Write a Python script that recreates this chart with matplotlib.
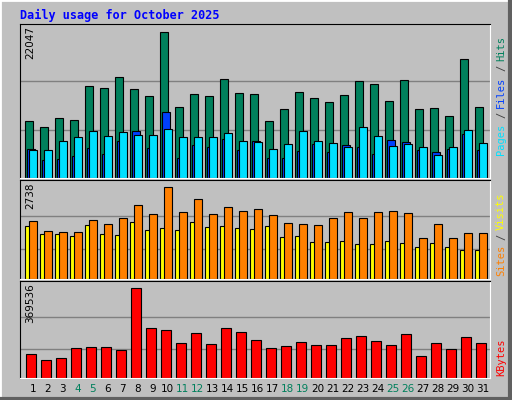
import matplotlib
matplotlib.use('Agg')
import matplotlib.pyplot as plt
from matplotlib.lines import Line2D
import numpy as np

days = np.arange(1, 32)
weekend_days = [4, 5, 11, 12, 18, 19, 25, 26]

hits = [8550, 7650, 9000, 8700, 13800, 13500, 15150, 13350, 12300, 22047, 10650, 12600, 12300, 14850, 12750, 12600,
        8550, 10350, 12900, 12000, 11400, 12450, 14550, 14100, 11550, 14700, 10350, 10500, 9300, 18000, 10650]
files = [4350, 2700, 2850, 3300, 4500, 3600, 5550, 7050, 4500, 9900, 3000, 4950, 4650, 5850, 4200, 5550,
         3000, 3000, 4050, 5100, 3900, 4950, 4650, 3600, 5700, 5400, 4200, 3900, 4350, 6600, 4200]
pages = [4200, 4200, 5550, 6150, 7050, 6300, 6900, 6450, 6450, 7350, 6150, 6150, 6150, 6750, 5550, 5400,
         4350, 5100, 7050, 5550, 5250, 4650, 7650, 6300, 4800, 5100, 4650, 3450, 4650, 7200, 5250]
visits = [1726, 1428, 1399, 1399, 1756, 1637, 1815, 2202, 1934, 2738, 1994, 2381, 1934, 2143, 2024, 2083,
          1905, 1667, 1637, 1607, 1815, 1994, 1815, 1994, 2024, 1964, 1220, 1637, 1220, 1369, 1369]
sites = [1577, 1339, 1339, 1280, 1607, 1339, 1309, 1696, 1458, 1518, 1458, 1696, 1547, 1577, 1518, 1488,
         1577, 1250, 1280, 1101, 1101, 1131, 1042, 1042, 1131, 1071, 952, 1071, 952, 863, 863]
kbytes = [97400, 73100, 81200, 121800, 125900, 125900, 113700, 369536, 203000, 194900, 142100, 182700, 138100,
          203000, 186800, 154300, 121800, 130000, 146200, 134000, 134000, 162400, 170600, 150200, 134000,
          178700, 89300, 142100, 117800, 166500, 142100]

BG = '#c0c0c0'
W, H = 512, 400
fig = plt.figure(figsize=(W / 100, H / 100), dpi=100, facecolor=BG)

# outer bevel
fig.add_artist(Line2D([0, 0, 1], [0, 1, 1], transform=fig.transFigure, color='white', lw=2))
fig.add_artist(Line2D([0.003, 0.997, 0.997], [0.003, 0.003, 0.997], transform=fig.transFigure, color='#606060', lw=3))

fig.text(20 / W, 1 - 15 / H, 'Daily usage for October 2025', color='#0000ff', fontsize=8.5,
         fontweight='bold', family='DejaVu Sans Mono', va='center', ha='left')


def panel(top, bottom):
    ax = fig.add_axes([20 / W, 1 - bottom / H, 470 / W, (bottom - top) / H], facecolor=BG)
    ax.set_xlim(0.147, 31.48)
    ax.set_xticks([])
    ax.set_yticks([])
    for s in ('top', 'left'):
        ax.spines[s].set_color('black')
    for s in ('bottom', 'right'):
        ax.spines[s].set_color('white')
    return ax


def gridlines(ax, vmax, fracs):
    for f in fracs:
        ax.axhline(f * vmax, color='#808080', lw=1, zorder=0)


ek = dict(edgecolor='black', linewidth=0.8, align='edge')

# top: hits / files / pages
ax1 = panel(24, 178)
ax1.set_ylim(0, 22047 / 0.95)
gridlines(ax1, 22047 / 0.95 * 0.98, [0.68 * 0.95, 0.333 * 0.95])
ax1.bar(days - 0.5, hits, 0.49, color='#00805c', **ek)
ax1.bar(days - 0.367, files, 0.49, color='#0040ff', **ek)
ax1.bar(days - 0.233, pages, 0.49, color='#00e0ff', **ek)
fig.text(30 / W, 1 - 26 / H, '22047', rotation=90, fontsize=7.5, ha='center', va='top')
fig.text(501 / W, 1 - 155 / H, 'Pages', rotation=90, color='#00e0ff', fontsize=7.5, family='DejaVu Sans Mono', ha='center', va='bottom')
fig.text(501 / W, 1 - 118 / H, '/', rotation=90, color='#404040', fontsize=7.5, family='DejaVu Sans Mono', ha='center', va='bottom')
fig.text(501 / W, 1 - 108 / H, 'Files', rotation=90, color='#0040ff', fontsize=7.5, family='DejaVu Sans Mono', ha='center', va='bottom')
fig.text(501 / W, 1 - 71 / H, '/', rotation=90, color='#404040', fontsize=7.5, family='DejaVu Sans Mono', ha='center', va='bottom')
fig.text(501 / W, 1 - 61 / H, 'Hits', rotation=90, color='#00805c', fontsize=7.5, family='DejaVu Sans Mono', ha='center', va='bottom')

# middle: sites / visits
ax2 = panel(180, 279)
ax2.set_ylim(0, 2738 / 0.93)
gridlines(ax2, 2738 / 0.93, [0.685 * 0.93, 0.326 * 0.93])
ax2.bar(days - 0.5, sites, 0.49, color='#ffff00', **ek)
ax2.bar(days - 0.233, visits, 0.49, color='#ff8000', **ek)
fig.text(30 / W, 1 - 182 / H, '2738', rotation=90, fontsize=7.5, ha='center', va='top')
fig.text(501 / W, 1 - 276 / H, 'Sites', rotation=90, color='#ff8000', fontsize=7.5, family='DejaVu Sans Mono', ha='center', va='bottom')
fig.text(501 / W, 1 - 240 / H, '/', rotation=90, color='#404040', fontsize=7.5, family='DejaVu Sans Mono', ha='center', va='bottom')
fig.text(501 / W, 1 - 230 / H, 'Visits', rotation=90, color='#ffff00', fontsize=7.5, family='DejaVu Sans Mono', ha='center', va='bottom')

# bottom: kbytes
ax3 = panel(281, 378)
ax3.set_ylim(0, 369536 / 0.93)
gridlines(ax3, 369536 / 0.93, [0.681 * 0.93, 0.319 * 0.93])
ax3.bar(days - 0.43, kbytes, 0.67, color='#ff0000', **ek)
fig.text(30 / W, 1 - 283 / H, '369536', rotation=90, fontsize=7.5, ha='center', va='top')
fig.text(501 / W, 1 - 376 / H, 'KBytes', rotation=90, color='#ff0000', fontsize=7.5, family='DejaVu Sans Mono', ha='center', va='bottom')

ax3.set_xticks(days)
ax3.set_xticklabels([str(d) for d in days], fontsize=7.5)
ax3.tick_params(axis='x', length=0, pad=4)
for lbl, d in zip(ax3.get_xticklabels(), days):
    lbl.set_color('#00805c' if d in weekend_days else 'black')

fig.savefig('out.png', dpi=100, facecolor=BG)
